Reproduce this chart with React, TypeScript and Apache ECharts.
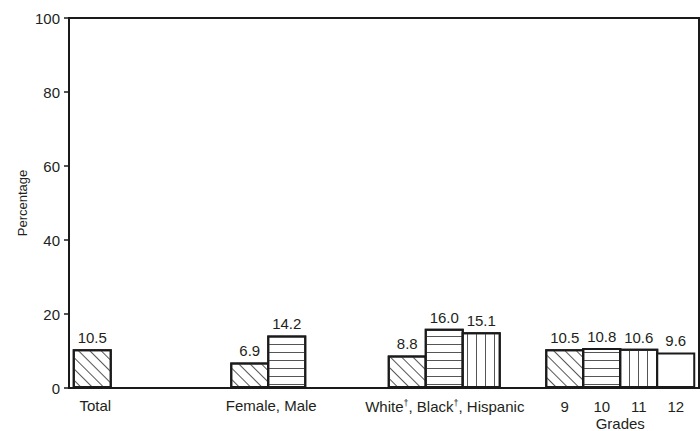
import React, { useEffect, useRef } from "react";
import * as echarts from "echarts";

const categories = ["Total", "Female, Male", "White†, Black†, Hispanic", "Grades"];
const gradeLabels = ["9", "10", "11", "12"];
const seriesDiagonal = [10.5, 6.9, 8.8, 10.5];
const seriesHorizontal: (number | string)[] = ["-", 14.2, 16.0, 10.8];
const seriesVertical: (number | string)[] = ["-", "-", 15.1, 10.6];
const seriesBlank: (number | string)[] = ["-", "-", "-", 9.6];
const yTicks = { min: 0, max: 100, interval: 20 };

const FONT = "Liberation Sans, Arial, sans-serif";
const TEXT = "#231f20";
const FS = 15;

export default function App() {
  const ref = useRef<HTMLDivElement>(null);
  useEffect(() => {
    if (!ref.current) return;
    const chart = echarts.init(ref.current, null, { renderer: "svg" });
    const lineDecal = (rot: number, gap: number) => ({
      symbol: "rect",
      symbolSize: 1,
      color: "#555",
      dashArrayX: [[8, 0]],
      dashArrayY: [1, gap],
      rotation: rot,
    });
    const mk = (name: string, data: any[], decal: any) => ({
      name,
      type: "bar",
      data,
      barWidth: 39,
      barGap: "-5.13%",
      itemStyle: { color: "#fff", borderColor: "#1a1a1a", borderWidth: 2, decal },
      label: {
        show: true,
        position: "top",
        distance: 4,
        fontFamily: FONT,
        fontSize: FS,
        color: TEXT,
        formatter: (p: any) => Number(p.value).toFixed(1),
      },
    });
    const shifts = [105, 68, 36, 0];
    chart.setOption({
      animation: false,
      textStyle: { fontFamily: FONT },
      grid: {
        left: 69,
        right: 1,
        top: 18,
        bottom: 42.5,
        show: true,
        borderColor: "#1a1a1a",
        borderWidth: 2,
      },
      xAxis: {
        type: "category",
        data: categories.map((c, i) => ({
          value: c,
          textStyle: { padding: [0, shifts[i], 0, 0] },
        })),
        axisLine: { lineStyle: { color: "#1a1a1a", width: 2 } },
        axisTick: { show: false },
        axisLabel: {
          margin: 10,
          fontSize: FS,
          color: TEXT,
          fontFamily: FONT,
          interval: 0,
          formatter: (v: string) => {
            if (v === "Grades") {
              return gradeLabels.map((g) => `{g|${g}}`).join("") + "\n{n|Grades}";
            }
            if (v.includes("†")) {
              return v
                .split("†")
                .map((s, i, arr) => (i < arr.length - 1 ? `{t|${s}}{sup|†}` : `{t|${s}}`))
                .join("");
            }
            return v;
          },
          rich: {
            g: { width: 37, align: "center", fontSize: FS, color: TEXT, fontFamily: FONT, lineHeight: 17 },
            n: { fontSize: FS, color: TEXT, fontFamily: FONT, lineHeight: 17 },
            t: { fontSize: FS, color: TEXT, fontFamily: FONT, lineHeight: 17 },
            sup: { fontSize: 9, color: TEXT, fontFamily: FONT, verticalAlign: "top", lineHeight: 17 },
          },
        },
      },
      yAxis: {
        type: "value",
        min: yTicks.min,
        max: yTicks.max,
        interval: yTicks.interval,
        name: "Percentage",
        nameLocation: "middle",
        nameGap: 40,
        nameMoveOverlap: false,
        nameTextStyle: { fontSize: 13, color: TEXT, fontFamily: FONT },
        axisLine: { show: true, lineStyle: { color: "#1a1a1a", width: 2 } },
        axisTick: { show: true, length: 5, lineStyle: { color: "#1a1a1a", width: 1.5 } },
        splitLine: { show: false },
        axisLabel: { fontSize: FS, color: TEXT, fontFamily: FONT, margin: 9 },
      },
      series: [
        mk("diag", seriesDiagonal, lineDecal(Math.PI / 4, 7)),
        mk("horiz", seriesHorizontal, lineDecal(0, 6.5)),
        mk("vert", seriesVertical, lineDecal(Math.PI / 2, 8)),
        mk("blank", seriesBlank, null),
      ],
    });
    return () => chart.dispose();
  }, []);
  return (
    <div
      ref={ref}
      style={{ width: 700, height: 431, position: "absolute", left: 0, top: 0 }}
    />
  );
}
